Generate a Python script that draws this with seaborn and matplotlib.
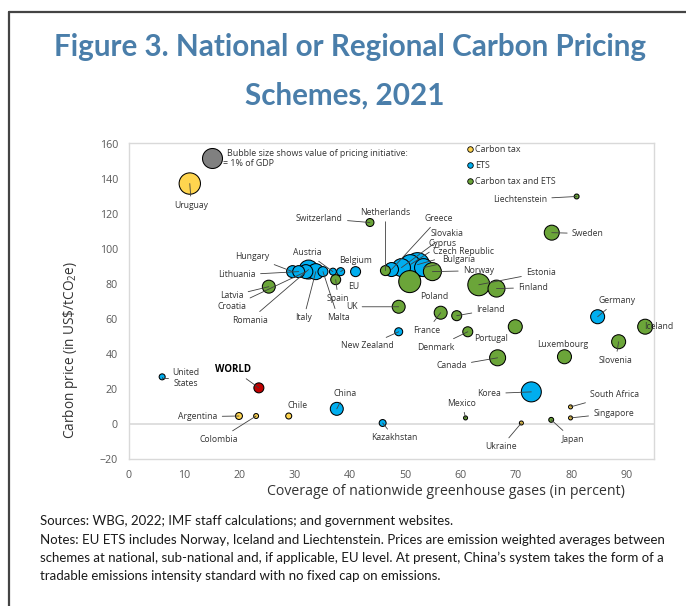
import matplotlib
matplotlib.use("Agg")
import matplotlib.pyplot as plt
from matplotlib.lines import Line2D
import seaborn as sns
import pandas as pd

# ---- data -------------------------------------------------------------
countries = ["Uruguay", "Switzerland", "Netherlands", "Liechtenstein", "Sweden",
             "Hungary", "Lithuania", "Croatia", "Romania", "Italy", "Malta",
             "Austria", "Belgium", "EU", "Spain", "Latvia", "UK", "New Zealand",
             "Greece", "Slovakia", "Cyprus", "Czech Republic", "Bulgaria",
             "Poland", "Norway", "Estonia", "Finland", "Ireland", "France",
             "Portugal", "Denmark", "Canada", "Luxembourg", "Slovenia", "Iceland",
             "Germany", "Korea", "Mexico", "Ukraine", "Japan", "South Africa",
             "Singapore", "Kazakhstan", "United States", "WORLD", "Argentina",
             "Colombia", "Chile", "China"]
coverage = [11.0, 43.6, 46.4, 81.0, 76.5,
            29.6, 30.7, 32.0, 32.5, 33.8, 35.1,
            36.9, 38.3, 41.0, 37.4, 25.3, 48.8, 48.8,
            47.5, 49.3, 50.9, 52.2, 53.3,
            50.8, 54.9, 63.3, 66.5, 59.3, 56.4,
            69.9, 61.3, 66.7, 78.8, 88.6, 93.4,
            84.8, 72.8, 60.9, 71.0, 76.4, 79.9,
            79.9, 45.9, 6.0, 23.5, 19.9,
            23.0, 28.9, 37.6]
price = [137.6, 115.3, 87.8, 130.2, 109.5,
         87.2, 87.2, 87.2, 88.4, 87.2, 87.2,
         87.2, 87.2, 87.2, 82.6, 78.6, 67.1, 52.8,
         88.4, 89.5, 91.2, 91.2, 89.5,
         81.5, 87.2, 79.7, 77.5, 62.0, 63.7,
         55.7, 52.8, 37.9, 38.5, 47.1, 55.7,
         61.4, 18.4, 3.5, 0.6, 2.4, 9.8,
         3.5, 0.6, 27.0, 20.7, 4.6,
         4.6, 4.6, 8.7]
scheme = ["Carbon tax", "Carbon tax and ETS", "Carbon tax and ETS", "Carbon tax and ETS", "Carbon tax and ETS",
          "ETS", "ETS", "ETS", "ETS", "ETS", "ETS",
          "ETS", "ETS", "ETS", "Carbon tax and ETS", "Carbon tax and ETS", "Carbon tax and ETS", "ETS",
          "ETS", "ETS", "ETS", "ETS", "ETS",
          "Carbon tax and ETS", "Carbon tax and ETS", "Carbon tax and ETS", "Carbon tax and ETS",
          "Carbon tax and ETS", "Carbon tax and ETS",
          "Carbon tax and ETS", "Carbon tax and ETS", "Carbon tax and ETS", "Carbon tax and ETS",
          "Carbon tax and ETS", "Carbon tax and ETS",
          "ETS", "ETS", "Carbon tax and ETS", "Carbon tax", "Carbon tax and ETS", "Carbon tax",
          "Carbon tax", "ETS", "ETS", "World", "Carbon tax",
          "Carbon tax", "Carbon tax", "ETS"]
# value of pricing initiative, % of GDP (bubble area)
gdp_share = [1.14, 0.16, 0.25, 0.06, 0.56,
             0.36, 0.36, 0.49, 0.90, 0.64, 0.25,
             0.12, 0.16, 0.25, 0.25, 0.42, 0.42, 0.16,
             0.49, 0.81, 1.00, 1.44, 0.81,
             1.21, 0.81, 1.21, 0.72, 0.25, 0.42,
             0.49, 0.25, 0.64, 0.49, 0.49, 0.56,
             0.49, 1.00, 0.04, 0.04, 0.06, 0.04,
             0.04, 0.12, 0.09, 0.25, 0.12,
             0.06, 0.09, 0.42]

scheme_order = ["Carbon tax", "ETS", "Carbon tax and ETS", "World"]
scheme_colors = {"Carbon tax": "#FFD54F", "ETS": "#00AEEF",
                 "Carbon tax and ETS": "#6BA539", "World": "#C00000"}

# ---- label layout: offset of label centre from bubble (pixels), leader line
label_layout = {
    "Uruguay": (1.5, -21.7, True), "Switzerland": (-50.5, 4.3, True),
    "Netherlands": (0, 58, True), "Greece": (47, 51, True),
    "Slovakia": (46, 34, True), "Cyprus": (32, 21, True),
    "Czech Republic": (46, 13, True), "Bulgaria": (35.5, 8, True),
    "Norway": (46, 1, True), "Liechtenstein": (-56.5, -3, True),
    "Sweden": (36, -1, True), "Estonia": (62, 12, True),
    "Finland": (36.5, 1, True), "Poland": (25, -15, False),
    "Germany": (19, 16, True), "Iceland": (13.7, 0.3, False),
    "Hungary": (-40, 15.3, True), "Austria": (-26, 19, True),
    "Belgium": (14.5, 10.7, True), "Lithuania": (-61.5, -3.3, True),
    "EU": (-2, -15.3, False), "Spain": (2.5, -19, True),
    "Latvia": (-37, -9, True), "Croatia": (-73.5, -34.7, True),
    "Romania": (-59, -50.7, True), "Italy": (-12, -46.3, True),
    "Malta": (15, -46, True), "UK": (-47, 0, True),
    "New Zealand": (-31, -14, True), "Ireland": (34, 6, True),
    "France": (-13.5, -17.7, True), "Portugal": (-24, -12, False),
    "Denmark": (-31.5, -15.3, True), "Canada": (-46, -8, True),
    "Luxembourg": (-2, 12.7, False), "Slovenia": (-3, -18.7, True),
    "Korea": (-42, -1.7, True), "Mexico": (-3.5, 14.7, True),
    "South Africa": (44, 12.3, True), "Singapore": (43, 4.7, True),
    "Japan": (21.3, -19.3, True), "Ukraine": (-20, -23.7, True),
    "Kazakhstan": (12, -15, True), "United States": (24, -1, True),
    "WORLD": (-26, 18.7, True), "Argentina": (-41, -0.7, True),
    "Colombia": (-37, -23.3, True), "Chile": (8.7, 10.3, False),
    "China": (8, 15.7, True),
}

# ---- style ---------------------------------------------------------------
sns.set_theme(style="white")
plt.rcParams["font.family"] = ["Open Sans", "DejaVu Sans"]
plt.rcParams["mathtext.fontset"] = "custom"
plt.rcParams["mathtext.rm"] = "Open Sans"

W, H = 686, 606
fig = plt.figure(figsize=(W / 100, H / 100), dpi=100)
ax = fig.add_axes([129 / W, 1 - 459 / H, 525 / W, 316 / H])

df = pd.DataFrame({"country": countries, "coverage": coverage, "price": price,
                   "scheme": scheme, "gdp_share": gdp_share})
# draw order: ETS behind, larger bubbles first
rank = {"ETS": 0, "Carbon tax": 1, "Carbon tax and ETS": 2, "World": 3}
df["_r"] = df["scheme"].map(rank)
df = df.sort_values(["_r", "gdp_share"], ascending=[True, False]).reset_index(drop=True)

S_REF = (20 * 0.72) ** 2  # marker area (pt^2) for 1% of GDP
size_map = {v: v * S_REF for v in df["gdp_share"].unique()}

ax.axhline(0, color="#D9D9D9", lw=1.2, zorder=1)
sns.scatterplot(data=df, x="coverage", y="price", hue="scheme",
                hue_order=scheme_order, palette=scheme_colors,
                size="gdp_share", sizes=size_map, edgecolor="black",
                linewidth=0.75, legend=False, ax=ax, zorder=3)

ax.set_xlim(0, 95)
ax.set_ylim(-20, 160.8)
ax.set_xticks(range(0, 91, 10))
ax.set_yticks(range(-20, 161, 20))
ax.tick_params(length=0, pad=8, labelsize=7.7, labelcolor="#595959")
for sp in ax.spines.values():
    sp.set_visible(True)
    sp.set_color("#D9D9D9")
    sp.set_linewidth(1.0)

ax.set_xlabel("Coverage of nationwide greenhouse gases (in percent)",
              fontsize=10.2, color="#333333")
ax.set_ylabel(r"Carbon price (in US\$/tCO$_\mathrm{2}$e)", fontsize=9.8, color="#333333")
ax.xaxis.set_label_coords(0.604, -0.104)
ax.xaxis.label.set_va("center")
ax.yaxis.set_label_coords(-0.112, 0.345)
ax.yaxis.label.set_va("center")

# country labels with leader lines
for _, row in df.iterrows():
    dx, dy, leader = label_layout[row["country"]]
    is_world = row["country"] == "WORLD"
    text = "United\nStates" if row["country"] == "United States" else row["country"]
    arrow = None
    if leader:
        arrow = dict(arrowstyle="-", color="#404040", lw=0.6, shrinkA=1, shrinkB=0)
        if row["country"] == "United States":
            arrow["connectionstyle"] = "angle,angleA=0,angleB=90,rad=0"
    ax.annotate(text, xy=(row["coverage"], row["price"]), xytext=(dx, dy),
                textcoords="offset pixels", ha="center", va="center",
                fontsize=7 if is_world else 6.2,
                fontweight="bold" if is_world else "normal",
                color="black" if is_world else "#333333",
                multialignment="center" if not is_world else None,
                arrowprops=arrow, zorder=5)

# bubble size key
ax.scatter([(211.7 - 129) / 525], [(459 - 157.7) / 316], s=S_REF, color="#808080",
           edgecolor="black", linewidth=0.75, transform=ax.transAxes, zorder=4,
           clip_on=False)
ax.text((227.3 - 129) / 525, (459 - 153) / 316,
        "Bubble size shows value of pricing initiative:", transform=ax.transAxes,
        fontsize=6.4, color="#333333", ha="left", va="center")
ax.text((223.3 - 129) / 525, (459 - 164) / 316, "= 1% of GDP", transform=ax.transAxes,
        fontsize=6.4, color="#333333", ha="left", va="center")

# scheme legend
handles = [Line2D([0], [0], marker="o", linestyle="", markersize=4,
                  markerfacecolor=scheme_colors[s], markeredgecolor="black",
                  markeredgewidth=0.6) for s in scheme_order[:3]]
ax.legend(handles, scheme_order[:3], loc="upper left",
          bbox_to_anchor=(0.643, 0.994), frameon=False, fontsize=6.4,
          handlelength=0.8, handletextpad=0.2, borderpad=0, borderaxespad=0,
          labelspacing=0.78, labelcolor="#333333")

# title and notes
title_kw = dict(fontsize=21.3, fontweight="bold", color="#4A7EAA", family="Lato",
                ha="center", va="center")
fig.text(350 / W, 1 - 47 / H, "Figure 3. National or Regional Carbon Pricing", **title_kw)
fig.text(344.5 / W, 1 - 96 / H, "Schemes, 2021", **title_kw)

notes = ["Sources: WBG, 2022; IMF staff calculations; and government websites.",
         "Notes: EU ETS includes Norway, Iceland and Liechtenstein. Prices are emission weighted averages between",
         "schemes at national, sub-national and, if applicable, EU level. At present, China\u2019s system takes the form of a",
         "tradable emissions intensity standard with no fixed cap on emissions."]
for line, ypx in zip(notes, [521, 539.5, 557.5, 575.5]):
    fig.text(40 / W, 1 - ypx / H, line, fontsize=9.5, family="Lato",
             color="#1A1A1A", ha="left", va="center")

# page frame
fig.add_artist(Line2D([9 / W, 9 / W], [0, 1 - 11.7 / H], transform=fig.transFigure,
                      color="#444444", lw=1.6))
fig.add_artist(Line2D([9 / W, 1], [1 - 11.7 / H, 1 - 11.7 / H], transform=fig.transFigure,
                      color="#444444", lw=1.6))

fig.savefig("out.png", dpi=100, facecolor="white")
